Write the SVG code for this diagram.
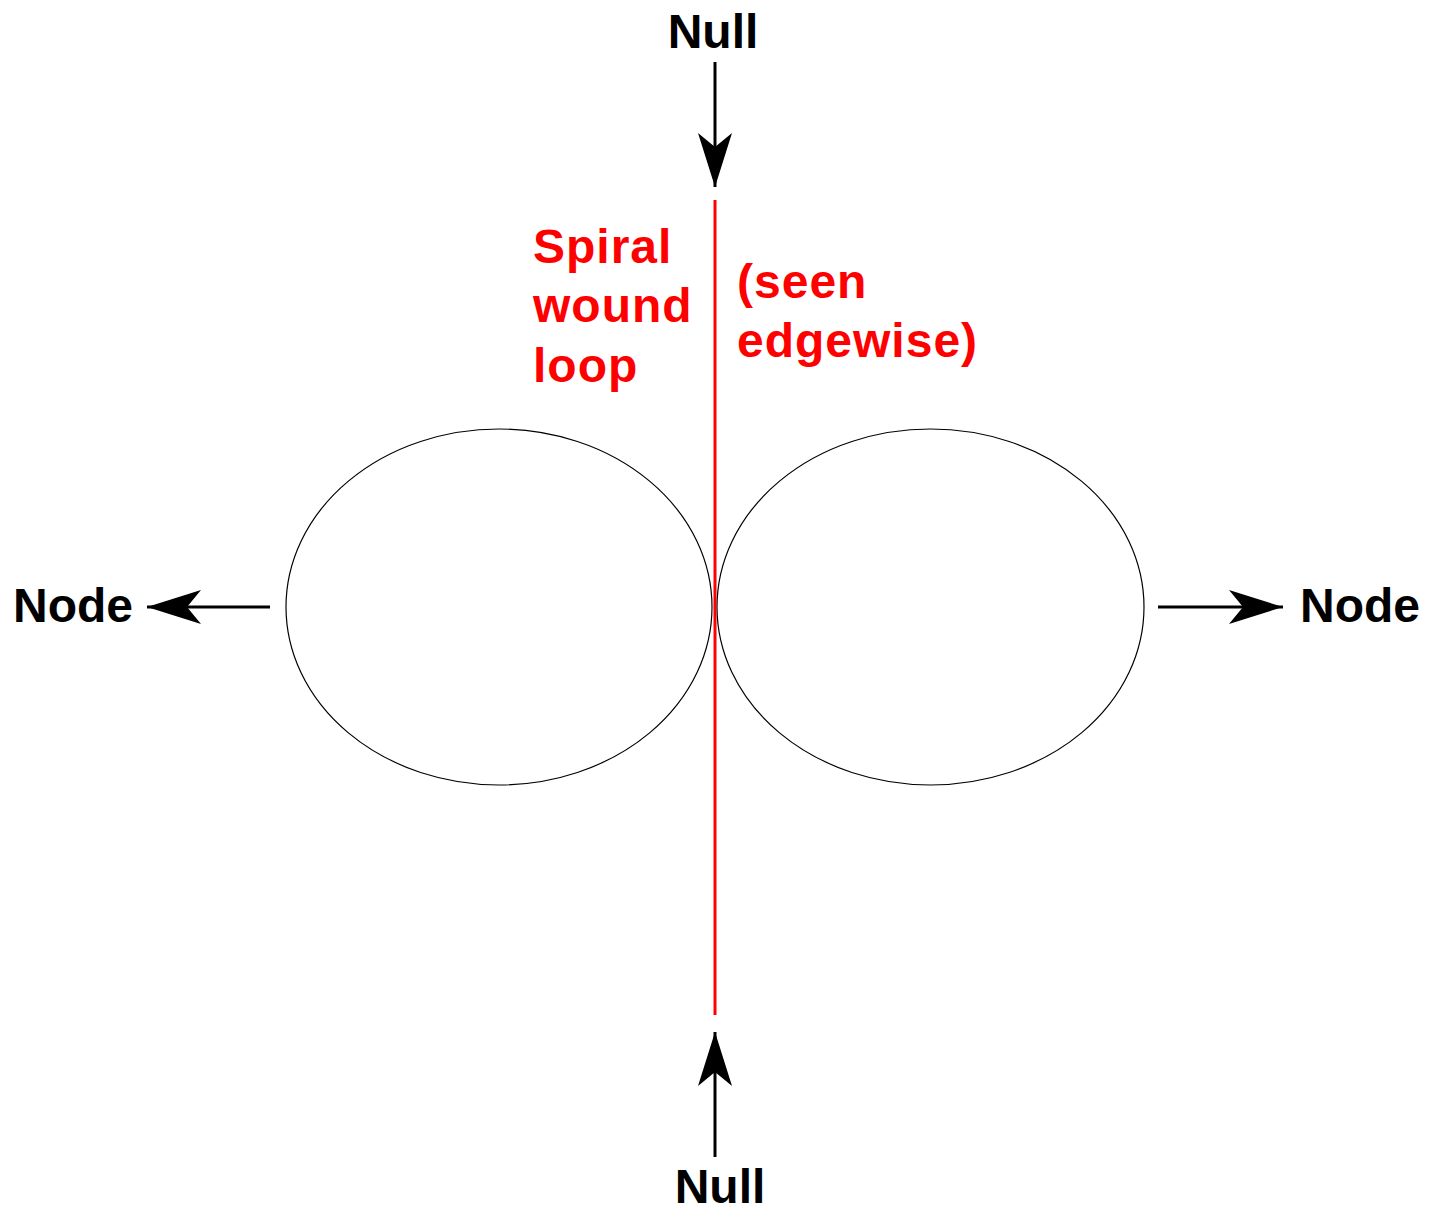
<svg xmlns="http://www.w3.org/2000/svg" width="1429" height="1208" viewBox="0 0 1429 1208">
<style>
.lbl{font-family:"Liberation Sans",Arial,sans-serif;font-weight:bold;font-size:48px;fill:#000}
.red{font-family:"Liberation Sans",Arial,sans-serif;font-weight:bold;font-size:48px;fill:#ff0000;letter-spacing:1px}
.loop{fill:none;stroke:#000;stroke-width:1.2}
.arr{stroke:#000;stroke-width:3;fill:none;marker-end:url(#ah)}
</style>
<defs>
<marker id="ah" markerUnits="userSpaceOnUse" markerWidth="60" markerHeight="40" viewBox="-56 -20 60 40" refX="0" refY="0" orient="auto">
<path d="M0,0 L-54,-17 L-40,0 L-54,17 Z" fill="#000"/>
</marker>
</defs>
<rect width="1429" height="1208" fill="#fff"/>
<g id="left-loop"><ellipse class="loop" cx="499" cy="607" rx="213" ry="178"/></g>
<g id="right-loop"><ellipse class="loop" cx="930.5" cy="607" rx="213.5" ry="178"/></g>
<g id="spiral-loop">
<line x1="715" y1="200" x2="715" y2="1015" stroke="#ff0000" stroke-width="3"/>
<text class="red" x="533" y="263">Spiral</text>
<text class="red" x="533" y="322">wound</text>
<text class="red" x="533" y="382">loop</text>
<text class="red" x="737" y="298">(seen</text>
<text class="red" x="737" y="357">edgewise)</text>
</g>
<g id="null-top"><text class="lbl" x="713" y="48" text-anchor="middle">Null</text></g>
<g id="null-bottom"><text class="lbl" x="720" y="1203" text-anchor="middle">Null</text></g>
<g id="node-left"><text class="lbl" x="13" y="622">Node</text></g>
<g id="node-right"><text class="lbl" x="1300" y="622">Node</text></g>
<g id="connectors">
<path class="arr" d="M715,62 L715,187"/>
<path class="arr" d="M715,1157 L715,1032"/>
<path class="arr" d="M270,607 L147,607"/>
<path class="arr" d="M1158,607 L1283,607"/>
</g>
</svg>
